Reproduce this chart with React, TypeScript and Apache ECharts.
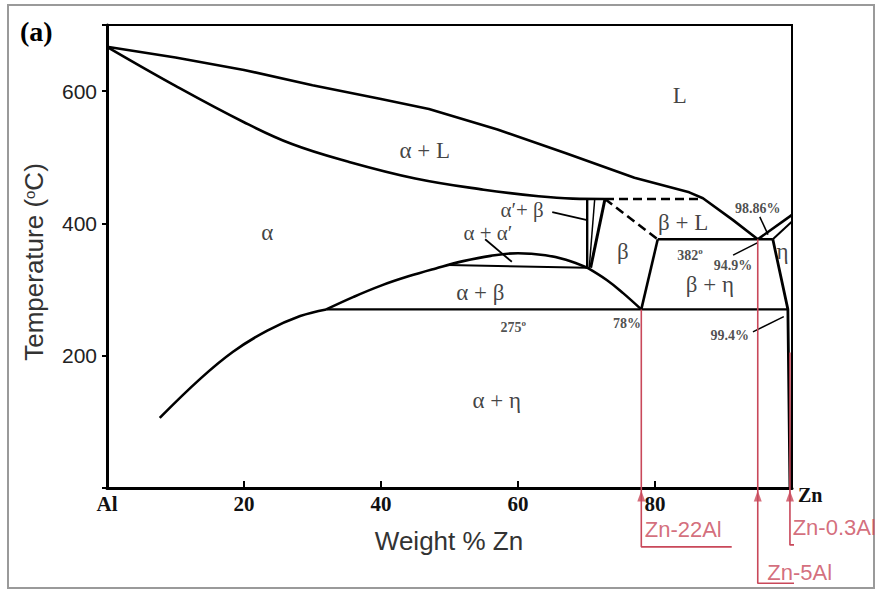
import React, { useEffect, useRef } from "react";
import * as echarts from "echarts";

// ---- axis ticks ----
const xTickValues = [0, 20, 40, 60, 80, 100];
const xTickLabels = ["Al", "20", "40", "60", "80", ""];
const yTickValues = [200, 400, 600];

// ---- phase boundaries: [wt% Zn, temperature °C] ----
const liquidusAl = [[0, 667], [10, 651], [20, 632], [30, 609], [40, 588], [47, 573], [57, 542], [67, 506], [77, 469], [85, 447], [87, 438], [91.4, 405], [95, 376]];
const liquidusZn = [[95, 376], [100, 413]];
const solidusEta = [[97.2, 376], [100, 403]];
const solidusAlpha = [[0, 667], [10, 608], [20, 553], [27, 520], [35, 494], [45, 468], [55, 451], [63, 441], [68, 437.5], [72.7, 437]];
const peritecticDashed = [[72.7, 437], [87, 437]];
const betaLiquidDashed = [[72.7, 437], [80.4, 376]];
const eutecticLine = [[80.4, 376], [97.2, 376]];
const betaRight = [[80.4, 376], [78, 270]];
const eutectoidLine = [[32, 270], [99.4, 270]];
const etaSolvus = [[97.2, 376], [99.4, 270], [99.7, 0]];
const betaLeftA = [[70.1, 437], [70.1, 333]];
const betaLeftB = [[71.2, 437], [70.4, 333]];
const betaLeftC = [[72.7, 437], [70.6, 333]];
const alphaSolvus = [[7.7, 106], [13.6, 165], [18.4, 206], [23.4, 238], [28.2, 260], [32, 270]];
const alphaBetaUpper = [[32, 270], [36, 289], [40, 306], [44, 320], [48, 332], [52, 343], [56, 351], [60, 355], [64, 352], [67, 345], [70.1, 333]];
const monotectoidLine = [[49.8, 337], [70.1, 333]];
const betaLowerLeft = [[70.1, 333], [73, 314], [75.3, 295], [78, 270]];

// leader lines
const leaderAlphaPBeta = [[65.0, 417], [70.1, 405]];
const leaderAlphaAlphaP = [[55.2, 376], [59.1, 342]];
const leader9886 = [[95.3, 410], [96.5, 383]];
const leader949 = [[91.4, 352], [95.0, 371]];
const leader994 = [[94.3, 236], [98.8, 259]];

// ---- alloys marked in red ----
const alloyNames = ["Zn-22Al", "Zn-5Al", "Zn-0.3Al"];
const alloyZn = [78, 95, 99.7];
const alloyTop = [270, 376, 205];
const alloyBottom = [-89, -144, -86];
const alloyLineEnd = [91.2, 106.3, 112.5];
const alloyLabelPos = [[78.5, -62], [96.4, -127], [100.1, -60]];

// ---- region / point labels: [text, x, T] ----
const regionLabels: [string, number, number][] = [
  ["L", 83.6, 594],
  ["α + L", 46.4, 511],
  ["α", 23.4, 387],
  ["β", 75.3, 357],
  ["β + L", 84.1, 402],
  ["η", 98.6, 357],
  ["β + η", 88.0, 307],
  ["α + β", 54.5, 296],
  ["α + η", 56.9, 133],
];
const smallRegionLabels: [string, number, number][] = [
  ["α′+ β", 60.6, 420],
  ["α + α′", 55.6, 386],
];
const pointLabels: [string, number, number][] = [
  ["382{s|o}", 85.1, 352],
  ["98.86%", 95.0, 423],
  ["94.9%", 91.4, 336],
  ["275{s|o}", 59.3, 242],
  ["78%", 75.9, 248],
  ["99.4%", 90.9, 231],
];

const RED = "#c9485a";
const SERIF = "'Liberation Serif', 'Times New Roman', serif";
const SANS = "'Liberation Sans', Arial, sans-serif";

if (typeof document !== "undefined") {
  document.body.style.margin = "0";
}

export default function App() {
  const ref = useRef<HTMLDivElement>(null);

  useEffect(() => {
    if (!ref.current) return;
    const chart = echarts.init(ref.current, undefined, { renderer: "svg" });

    const solid = (data: number[][], width = 2.6, extra: any = {}) => ({
      type: "line",
      data,
      symbol: "none",
      clip: false,
      silent: true,
      lineStyle: { color: "#000", width },
      ...extra,
    });
    const curve = (data: number[][]) => solid(data, 2.6, { smooth: 0.4 });
    const dashed = (data: number[][]) => solid(data, 2.6, { lineStyle: { color: "#000", width: 2.6, type: [9, 5] } });
    const red = (data: number[][]) => ({
      type: "line",
      data,
      symbol: "none",
      clip: false,
      silent: true,
      lineStyle: { color: RED, width: 1.6 },
    });
    const textSeries = (items: [string, number, number][], label: any) => ({
      type: "scatter",
      clip: false,
      silent: true,
      symbolSize: 0,
      z: 6,
      data: items.map(([t, x, y]) => ({
        value: [x, y],
        label: { show: true, position: "inside", formatter: t, ...label },
      })),
    });

    const series: any[] = [
      solid(liquidusAl),
      solid(liquidusZn),
      solid(solidusEta, 2),
      curve(solidusAlpha),
      dashed(peritecticDashed),
      dashed(betaLiquidDashed),
      solid(eutecticLine),
      solid(betaRight),
      solid(eutectoidLine, 2.4),
      solid(etaSolvus, 2.8),
      solid(betaLeftA, 2.4),
      solid(betaLeftB, 1.5),
      solid(betaLeftC, 3),
      curve(alphaSolvus),
      curve(alphaBetaUpper),
      solid(monotectoidLine, 2),
      curve(betaLowerLeft),
      solid(leaderAlphaPBeta, 1.8),
      solid(leaderAlphaAlphaP, 1.8),
      solid(leader9886, 1.5),
      solid(leader949, 1.5),
      solid(leader994, 1.5),
    ];

    alloyZn.forEach((x, i) => {
      series.push(red([[x, alloyTop[i]], [x, alloyBottom[i]], [alloyLineEnd[i], alloyBottom[i]]]));
    });

    series.push({
      type: "scatter",
      clip: false,
      silent: true,
      symbol: "triangle",
      symbolSize: [8, 11],
      itemStyle: { color: RED },
      data: alloyZn.map((x) => [x, -12]),
      z: 5,
    });

    series.push({
      type: "scatter",
      clip: false,
      silent: true,
      symbolSize: 0,
      data: alloyNames.map((n, i) => ({
        value: alloyLabelPos[i],
        label: {
          show: true,
          position: "right",
          distance: 0,
          formatter: n,
          color: RED,
          fontFamily: SANS,
          fontSize: 22,
        },
      })),
      z: 6,
    });

    series.push(textSeries(regionLabels, { color: "#111", fontFamily: SERIF, fontSize: 23 }));
    series.push(textSeries(smallRegionLabels, { color: "#111", fontFamily: SERIF, fontSize: 21 }));
    series.push(
      textSeries(pointLabels, {
        color: "#222",
        fontFamily: SERIF,
        fontWeight: "bold",
        fontSize: 14,
        rich: { s: { fontSize: 9, fontFamily: SERIF, color: "#222", padding: [0, 0, 9, 0] } },
      })
    );

    const option: any = {
      animation: false,
      grid: {
        left: 107,
        right: 88,
        top: 25,
        bottom: 102,
        show: true,
        borderColor: "#000",
        borderWidth: 2,
        backgroundColor: "transparent",
      },
      xAxis: {
        type: "value",
        min: 0,
        max: 100,
        interval: 20,
        axisLine: { show: true, lineStyle: { color: "#000", width: 3 } },
        axisTick: { show: true, inside: true, length: 7, lineStyle: { color: "#000", width: 2 } },
        splitLine: { show: false },
        axisLabel: {
          formatter: (v: number) => {
            const i = xTickValues.indexOf(v);
            return i >= 0 ? xTickLabels[i] : "";
          },
          color: "#111",
          fontFamily: SERIF,
          fontWeight: "bold",
          fontSize: 21,
          margin: 5,
        },
      },
      yAxis: {
        type: "value",
        min: 0,
        max: 700,
        interval: 200,
        axisLine: { show: true, lineStyle: { color: "#000", width: 3 } },
        axisTick: { show: true, length: 5, lineStyle: { color: "#000", width: 2 } },
        splitLine: { show: false },
        axisLabel: {
          formatter: (v: number) => (yTickValues.indexOf(v) >= 0 ? String(v) : ""),
          color: "#222",
          fontFamily: SANS,
          fontSize: 21,
          margin: 10,
        },
      },
      graphic: [
        {
          type: "rect",
          shape: { x: 8, y: 5, width: 866, height: 583 },
          style: { fill: "none", stroke: "#9a9a9a", lineWidth: 2 },
          silent: true,
          z: -1,
        },
        {
          type: "text",
          x: 20,
          y: 31,
          style: { text: "(a)", fill: "#000", font: `bold 28px ${SERIF}`, align: "left", verticalAlign: "middle" },
        },
        {
          type: "text",
          x: 34,
          y: 262,
          rotation: Math.PI / 2,
          style: {
            text: "Temperature ({s|o}C)",
            fill: "#333",
            font: `26px ${SANS}`,
            align: "center",
            verticalAlign: "middle",
            rich: { s: { fontSize: 15, fontFamily: SANS, fill: "#333", padding: [0, 0, 10, 0] } },
          },
        },
        {
          type: "text",
          x: 449,
          y: 541,
          style: { text: "Weight % Zn", fill: "#333", font: `26px ${SANS}`, align: "center", verticalAlign: "middle" },
        },
        {
          type: "text",
          x: 798,
          y: 495,
          style: { text: "Zn", fill: "#111", font: `bold 20px ${SERIF}`, align: "left", verticalAlign: "middle" },
        },
      ],
      series,
    };

    chart.setOption(option);
    return () => chart.dispose();
  }, []);

  return <div ref={ref} style={{ width: 880, height: 590 }} />;
}
